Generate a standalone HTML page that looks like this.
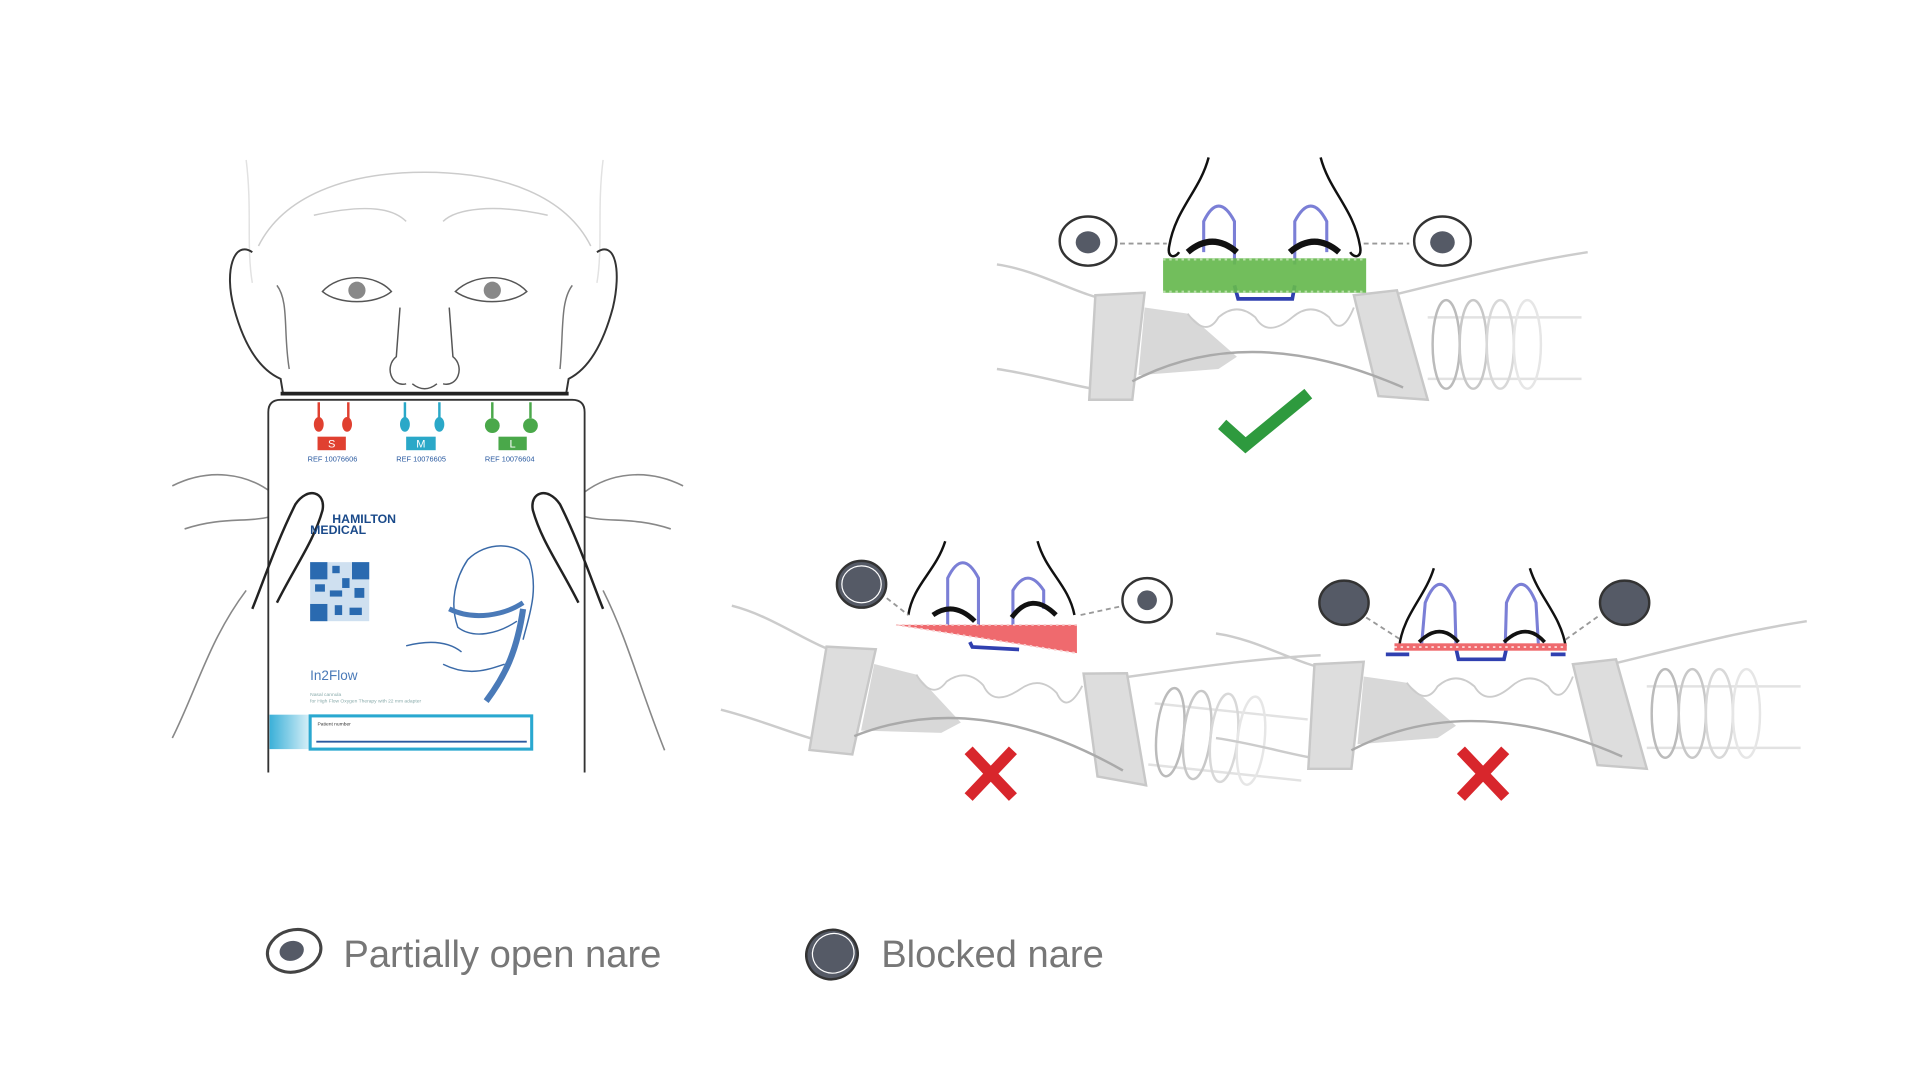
<!DOCTYPE html>
<html><head><meta charset="utf-8"><style>
html,body{margin:0;padding:0;background:#fff;width:1920px;height:1080px;overflow:hidden}
svg{display:block}
text{font-family:"Liberation Sans",sans-serif}
</style></head><body>
<svg width="1920" height="1080" viewBox="0 0 1560 878" preserveAspectRatio="none">
<defs>
<g id="cann">
 <path d="M-215,15 C-180,20 -150,40 -120,45" stroke="#ccc" stroke-width="2" fill="none"/>
 <path d="M-215,100 C-180,105 -150,115 -125,118" stroke="#ccc" stroke-width="2" fill="none"/>
 <path d="M85,45 C150,30 200,15 265,5" stroke="#ccc" stroke-width="2" fill="none"/>
 <path d="M-135,40 L-95,38 L-105,125 L-140,125 Z" fill="#ddd" stroke="#c8c8c8" stroke-width="2"/>
 <path d="M-95,50 L-60,55 L-20,90 L-35,100 L-100,105 Z" fill="#d8d8d8"/>
 <path d="M75,40 L110,36 L135,125 L95,122 Z" fill="#ddd" stroke="#c8c8c8" stroke-width="2"/>
 <path d="M-105,110 Q-10,60 115,115" stroke="#aaa" stroke-width="2" fill="none"/>
 <path d="M-60,55 Q-45,75 -35,58 Q-20,45 -5,58 Q5,75 25,58 Q40,45 55,58 Q65,75 75,50" stroke="#ccc" stroke-width="1.5" fill="none"/>
 <line x1="135" y1="58" x2="260" y2="58" stroke="#e2e2e2" stroke-width="2"/>
 <line x1="135" y1="108" x2="260" y2="108" stroke="#e2e2e2" stroke-width="2"/>
 <ellipse cx="150" cy="80" rx="11" ry="36" fill="none" stroke="#bbb" stroke-width="2"/>
 <ellipse cx="172" cy="80" rx="11" ry="36" fill="none" stroke="#c8c8c8" stroke-width="2"/>
 <ellipse cx="194" cy="80" rx="11" ry="36" fill="none" stroke="#d8d8d8" stroke-width="2"/>
 <ellipse cx="216" cy="80" rx="11" ry="36" fill="none" stroke="#e6e6e6" stroke-width="2"/>
</g>
</defs>

<!-- FACE -->
<g fill="none" stroke="#ccc" stroke-width="1.2">
 <path d="M200,130 C205,170 200,200 205,230 M490,130 C485,170 490,200 485,230" stroke="#e2e2e2"/>
 <path d="M210,200 C230,160 280,140 345,140 C410,140 460,160 480,200"/>
 <path d="M255,175 C300,165 320,170 330,180 M360,180 C370,170 400,165 445,175"/>
</g>
<g fill="none" stroke="#333" stroke-width="1.6">
 <path d="M205,205 C190,195 182,220 190,250 C198,280 210,300 228,308 L230,320"/>
 <path d="M485,205 C500,195 505,220 498,250 C490,280 478,300 462,308 L460,320"/>
 <path d="M225,232 C235,245 230,270 235,300 M465,232 C455,245 458,270 455,300" stroke="#777" stroke-width="1.2"/>
 <path d="M262,237 C275,222 305,222 318,237 C305,248 275,248 262,237Z" stroke-width="1.2" stroke="#555"/>
 <path d="M370,237 C385,222 415,222 428,237 C415,248 385,248 370,237Z" stroke-width="1.2" stroke="#555"/>
 <path d="M325,250 L322,290 C312,298 318,315 330,312 M365,250 L368,290 C378,298 372,315 360,312 M335,312 Q345,320 355,312" stroke-width="1.2" stroke="#555"/>
</g>
<circle cx="290" cy="236" r="7" fill="#888"/><circle cx="400" cy="236" r="7" fill="#888"/>
<path d="M228,320 L462,320" stroke="#222" stroke-width="3"/>

<!-- HANDS -->
<g fill="none" stroke="#888" stroke-width="1.3">
 <path d="M140,395 C170,380 200,385 220,400 M150,430 C180,420 200,425 220,420 M140,600 C160,560 170,520 200,480"/>
 <path d="M555,395 C525,380 495,385 475,400 M545,430 C515,420 495,425 475,420 M540,610 C520,560 510,520 490,480"/>
</g>

<!-- CARD -->
<path d="M218,628 L218,335 Q218,325 228,325 L465,325 Q475,325 475,335 L475,628" fill="#fff" stroke="#333" stroke-width="1.5"/>
<path d="M205,495 C215,470 225,440 240,410 C250,395 265,400 262,415 C255,440 240,460 225,490" fill="none" stroke="#222" stroke-width="2"/>
<path d="M490,495 C480,470 470,440 455,410 C445,395 430,400 433,415 C440,440 455,460 470,490" fill="none" stroke="#222" stroke-width="2"/>
<g stroke-width="2">
 <path d="M259,327 V340 M283,327 V340" stroke="#e04030"/>
 <path d="M329,327 V340 M357,327 V340" stroke="#2aa8c8"/>
 <path d="M400,327 V340 M431,327 V340" stroke="#4aa84a"/>
</g>
<ellipse cx="259" cy="345" rx="4" ry="6" fill="#e04030"/><ellipse cx="282" cy="345" rx="4" ry="6" fill="#e04030"/>
<ellipse cx="329" cy="345" rx="4" ry="6" fill="#2aa8c8"/><ellipse cx="357" cy="345" rx="4" ry="6" fill="#2aa8c8"/>
<circle cx="400" cy="346" r="6" fill="#4aa84a"/><circle cx="431" cy="346" r="6" fill="#4aa84a"/>
<rect x="258" y="355" width="23" height="11" fill="#e04030"/><text x="269.5" y="364" font-size="9" fill="#fff" text-anchor="middle">S</text>
<rect x="330" y="355" width="24" height="11" fill="#2aa8c8"/><text x="342" y="364" font-size="9" fill="#fff" text-anchor="middle">M</text>
<rect x="405" y="355" width="23" height="11" fill="#4aa84a"/><text x="416.5" y="364" font-size="9" fill="#fff" text-anchor="middle">L</text>
<text x="250" y="375" font-size="6" fill="#2a5aa0">REF 10076606</text>
<text x="322" y="375" font-size="6" fill="#2a5aa0">REF 10076605</text>
<text x="394" y="375" font-size="6" fill="#2a5aa0">REF 10076604</text>
<text x="270" y="425" font-size="10" font-weight="bold" fill="#1a4a8a">HAMILTON</text>
<text x="252" y="434" font-size="10" font-weight="bold" fill="#1a4a8a">MEDICAL</text>
<g fill="#2a6ab0">
 <rect x="252" y="457" width="48" height="48" fill="#cfe0f0"/>
 <rect x="252" y="457" width="14" height="14"/><rect x="286" y="457" width="14" height="14"/><rect x="252" y="491" width="14" height="14"/>
 <rect x="270" y="460" width="6" height="6"/><rect x="278" y="470" width="6" height="8"/><rect x="268" y="480" width="10" height="5"/><rect x="288" y="478" width="8" height="8"/><rect x="272" y="492" width="6" height="8"/><rect x="284" y="494" width="10" height="6"/><rect x="256" y="475" width="8" height="6"/>
</g>
<g fill="none" stroke="#3a6aa8" stroke-width="1.2">
 <path d="M380,455 C395,440 420,440 430,455 C438,480 430,500 425,520 M380,455 C370,470 365,490 372,510 C385,520 405,515 420,505"/>
 <path d="M365,495 C385,505 410,500 425,490" stroke-width="4" stroke="#4a7ab8"/>
 <path d="M425,495 C420,530 410,550 395,570" stroke-width="5" stroke="#4a7ab8"/>
 <path d="M330,525 C350,520 365,522 375,530 M360,540 C380,550 395,545 410,540"/>
</g>
<text x="252" y="553" font-size="11" fill="#4a7ab8">In2Flow</text>
<text x="252" y="566" font-size="4" fill="#8aa">Nasal cannula</text>
<text x="252" y="571" font-size="4" fill="#8aa">for High Flow Oxygen Therapy with 22 mm adapter</text>
<defs><linearGradient id="bl" x1="0" x2="1"><stop offset="0" stop-color="#3ab0d8"/><stop offset="1" stop-color="#e8f6fb"/></linearGradient></defs>
<rect x="219" y="581" width="36" height="28" fill="url(#bl)"/>
<rect x="252" y="582" width="180" height="27" fill="#fff" stroke="#2aa8d0" stroke-width="2.5"/>
<text x="258" y="590" font-size="4" fill="#333">Patient number</text>
<line x1="257" y1="603" x2="428" y2="603" stroke="#2a5aa0" stroke-width="1.5"/>

<!-- TOP PANEL -->
<use href="#cann" transform="translate(1025,200)"/>
<g fill="none" stroke="#111" stroke-width="2">
 <path d="M982,128 C975,155 955,170 950,200 C948,210 955,210 958,205"/>
 <path d="M1073,128 C1080,155 1100,170 1105,200 C1107,210 1100,210 1097,205"/>
</g>
<g fill="none" stroke="#7b7fd6" stroke-width="2.5">
 <path d="M978,205 L978,180 Q990,155 1003,180 L1003,215"/>
 <path d="M1052,215 L1052,180 Q1065,155 1078,180 L1078,205"/>
</g>
<path d="M1003,232 L1006,243 L1050,243 L1052,232" fill="none" stroke="#3040b0" stroke-width="3"/>
<path d="M965,205 Q985,188 1005,205 M1048,205 Q1068,188 1088,205" fill="none" stroke="#111" stroke-width="5"/>
<rect x="945" y="210" width="165" height="28" fill="#66b84e" opacity="0.92"/>
<line x1="945" y1="211" x2="1110" y2="211" stroke="#b8e0a8" stroke-width="1.5" stroke-dasharray="2 3"/>
<line x1="945" y1="237" x2="1110" y2="237" stroke="#b8e0a8" stroke-width="1.5" stroke-dasharray="2 3"/>
<path d="M910,198 H948 M1108,198 H1145" stroke="#999" stroke-width="1.5" stroke-dasharray="4 3"/>
<ellipse cx="884" cy="196" rx="23" ry="20" fill="#fff" stroke="#333" stroke-width="2"/>
<ellipse cx="884" cy="197" rx="10" ry="9" fill="#555a66"/>
<ellipse cx="1172" cy="196" rx="23" ry="20" fill="#fff" stroke="#333" stroke-width="2"/>
<ellipse cx="1172" cy="197" rx="10" ry="9" fill="#555a66"/>
<path d="M993,345 L1012,362 L1063,320" fill="none" stroke="#2e9a3e" stroke-width="10"/>

<!-- BOTTOM LEFT -->
<use href="#cann" transform="translate(810,500) rotate(6)"/>
<g fill="none" stroke="#111" stroke-width="2">
 <path d="M768,440 C760,465 742,475 738,500"/>
 <path d="M843,440 C850,465 868,475 873,500"/>
</g>
<g fill="none" stroke="#7b7fd6" stroke-width="2.5">
 <path d="M770,510 L770,470 Q782,445 795,470 L795,515"/>
 <path d="M823,520 L823,480 Q835,460 848,480 L848,495"/>
</g>
<path d="M758,500 Q775,488 792,505 M822,502 Q838,480 858,500" fill="none" stroke="#111" stroke-width="4"/>
<path d="M728,508 L875,508 L875,531 Z" fill="#ef6a6e"/>
<path d="M728,508 L875,508 M728,508 L875,531" stroke="#f8d0d0" stroke-width="1.5" stroke-dasharray="2 3"/>
<path d="M788,522 L790,526 L828,528" stroke="#3040b0" stroke-width="3" fill="none"/>
<path d="M715,482 L738,500 M878,500 L915,492" stroke="#999" stroke-width="1.5" stroke-dasharray="4 3"/>
<ellipse cx="700" cy="475" rx="20" ry="19" fill="#555a66" stroke="#333" stroke-width="2"/>
<ellipse cx="700" cy="475" rx="16" ry="15" fill="none" stroke="#fff" stroke-width="1"/>
<ellipse cx="932" cy="488" rx="20" ry="18" fill="#fff" stroke="#333" stroke-width="2"/>
<ellipse cx="932" cy="488" rx="8" ry="8" fill="#555a66"/>
<path d="M787,610 L823,648 M823,610 L787,648" stroke="#d8262c" stroke-width="9"/>

<!-- BOTTOM RIGHT -->
<use href="#cann" transform="translate(1203,500)"/>
<g fill="none" stroke="#111" stroke-width="2">
 <path d="M1165,462 C1158,485 1140,500 1137,525"/>
 <path d="M1243,462 C1250,485 1268,500 1272,525"/>
</g>
<g fill="none" stroke="#7b7fd6" stroke-width="2.5">
 <path d="M1155,525 L1158,490 Q1170,460 1182,490 L1183,525"/>
 <path d="M1223,525 L1224,490 Q1236,460 1248,490 L1250,525"/>
</g>
<path d="M1153,522 Q1170,505 1185,522 M1222,522 Q1240,505 1255,522" fill="none" stroke="#111" stroke-width="3"/>
<path d="M1183,527 L1185,536 L1222,536 L1224,527" fill="none" stroke="#3040b0" stroke-width="3"/>
<path d="M1126,532 H1145 M1260,532 H1272" stroke="#3040b0" stroke-width="3"/>
<rect x="1133" y="523" width="140" height="6" fill="#ef6a6e"/>
<line x1="1133" y1="526" x2="1273" y2="526" stroke="#fbd6d6" stroke-width="1.5" stroke-dasharray="2 3"/>
<path d="M1110,502 L1138,520 M1272,520 L1300,500" stroke="#999" stroke-width="1.5" stroke-dasharray="4 3"/>
<ellipse cx="1092" cy="490" rx="20" ry="18" fill="#555a66" stroke="#333" stroke-width="2"/>
<ellipse cx="1320" cy="490" rx="20" ry="18" fill="#555a66" stroke="#333" stroke-width="2"/>
<path d="M1187,610 L1223,648 M1223,610 L1187,648" stroke="#d8262c" stroke-width="9"/>

<!-- LEGEND -->
<ellipse cx="239" cy="773" rx="22" ry="17" transform="rotate(-15 239 773)" fill="#fff" stroke="#444" stroke-width="2.5"/>
<ellipse cx="237" cy="773" rx="10" ry="8" transform="rotate(-15 237 773)" fill="#555a66"/>
<text x="279" y="786" font-size="31" fill="#777">Partially open nare</text>
<ellipse cx="676" cy="776" rx="21" ry="20" transform="rotate(-20 676 776)" fill="#555a66" stroke="#333" stroke-width="2"/>
<ellipse cx="677" cy="775" rx="17" ry="16" transform="rotate(-20 677 775)" fill="none" stroke="#fff" stroke-width="1"/>
<text x="716" y="786" font-size="31" fill="#777">Blocked nare</text>
</svg>
</body></html>
